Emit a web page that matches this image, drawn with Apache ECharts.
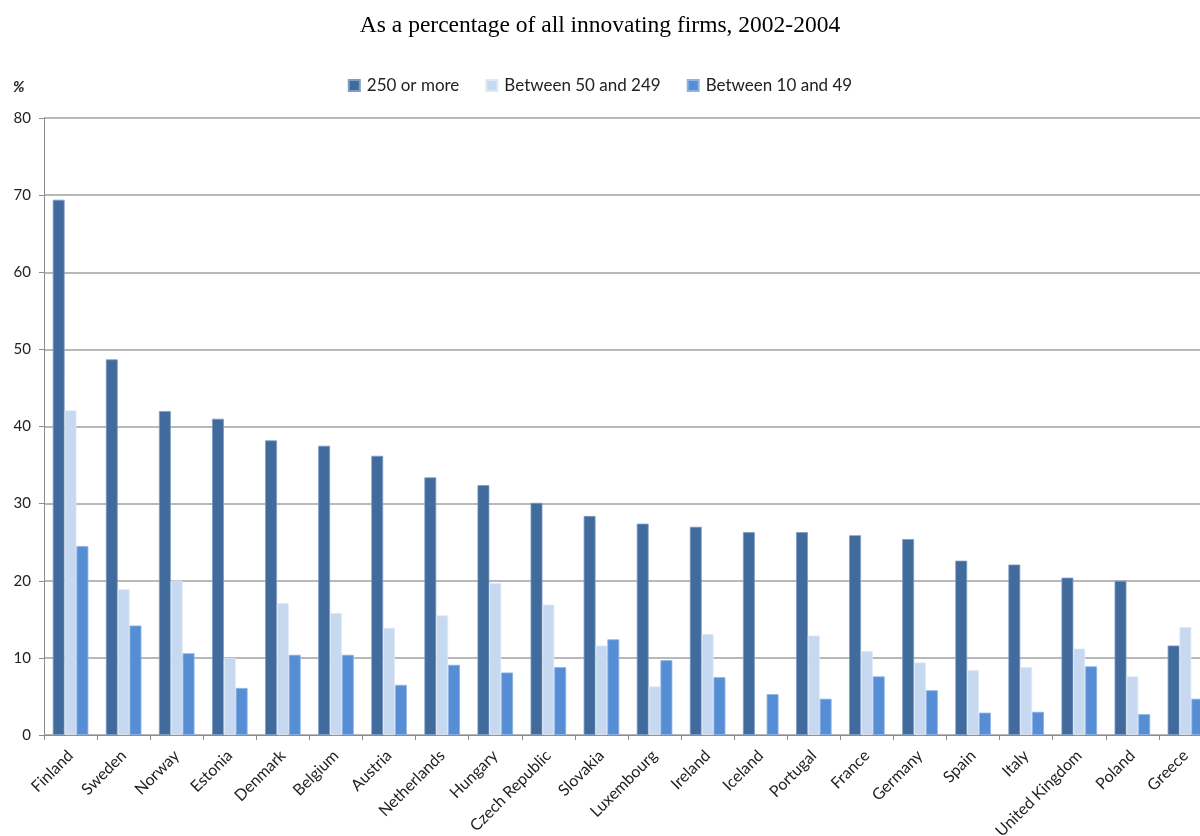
<!DOCTYPE html>
<html>
<head>
<meta charset="utf-8">
<script src="https://cdn.jsdelivr.net/npm/echarts@6/dist/echarts.min.js"></script>
<style>
html,body{margin:0;padding:0;background:#fff;}
#chart{width:1200px;height:836px;}
</style>
</head>
<body>
<div id="chart"></div>
<script>
const titleText = 'As a percentage of all innovating firms, 2002-2004';
const categories = ['Finland','Sweden','Norway','Estonia','Denmark','Belgium','Austria','Netherlands','Hungary','Czech Republic','Slovakia','Luxembourg','Ireland','Iceland','Portugal','France','Germany','Spain','Italy','United Kingdom','Poland','Greece'];
const seriesNames = ['250 or more','Between 50 and 249','Between 10 and 49'];
const large = [69.4,48.7,42.0,41.0,38.2,37.5,36.2,33.4,32.4,30.1,28.4,27.4,27.0,26.3,26.3,25.9,25.4,22.6,22.1,20.4,20.0,11.6];
const medium = [42.1,18.9,20.0,10.0,17.1,15.8,13.9,15.5,19.7,16.9,11.6,6.3,13.1,null,12.9,10.9,9.4,8.4,8.8,11.2,7.6,14.0];
const small = [24.5,14.2,10.6,6.1,10.4,10.4,6.5,9.1,8.1,8.8,12.4,9.7,7.5,5.3,4.7,7.6,5.8,2.9,3.0,8.9,2.7,4.7];
const yTicks = [0,10,20,30,40,50,60,70,80];

const colors = ['#416a9d','#c6d9f0','#558ed5'];
const borders = ['#7d9cc4','#dfe9f6','#8fb4e4'];
const chart = echarts.init(document.getElementById('chart'), null, {renderer:'canvas'});
const dataSets = [large, medium, small];
chart.setOption({
  animation:false,
  color: colors,
  title:{
    text:titleText, left:'center', top:9,
    textStyle:{fontFamily:'Liberation Serif', fontSize:23.5, fontWeight:'normal', color:'#000'}
  },
  legend:{
    top:72, left:'center', itemWidth:11, itemHeight:11, itemGap:26,
    icon:'rect',
    textStyle:{fontFamily:'Lato', fontSize:17, color:'#222', padding:[0,0,0,2]},
    data: seriesNames
  },
  graphic:[{
    type:'text', left:13, top:80,
    style:{text:'%', font:'italic bold 15px Lato', fill:'#222'}
  }],
  grid:{left:44, right:-12, top:118, bottom:101, containLabel:false, outerBoundsMode:'none'},
  xAxis:{
    type:'category', data:categories,
    boundaryGap:true,
    axisLine:{lineStyle:{color:'#8c8c8c', width:1}},
    axisTick:{show:true, alignWithLabel:false, length:5, lineStyle:{color:'#8c8c8c'}},
    axisLabel:{rotate:45, interval:0, fontFamily:'Lato', fontSize:16, color:'#222', margin:18}
  },
  yAxis:{
    type:'value', min:yTicks[0], max:yTicks[yTicks.length-1], interval:10,
    axisLine:{show:true, lineStyle:{color:'#8c8c8c', width:1}},
    axisTick:{show:true, length:5, lineStyle:{color:'#8c8c8c'}},
    axisLabel:{fontFamily:'Lato', fontSize:15, color:'#222', margin:13},
    splitLine:{lineStyle:{color:'#a0a0a0', width:1.5}}
  },
  series: seriesNames.map((n,i)=>({
    name:n, type:'bar', data:dataSets[i],
    barGap:'0%', barCategoryGap:'33%',
    itemStyle:{color:colors[i], borderColor:borders[i], borderWidth:0.8}
  }))
});
</script>
</body>
</html>
